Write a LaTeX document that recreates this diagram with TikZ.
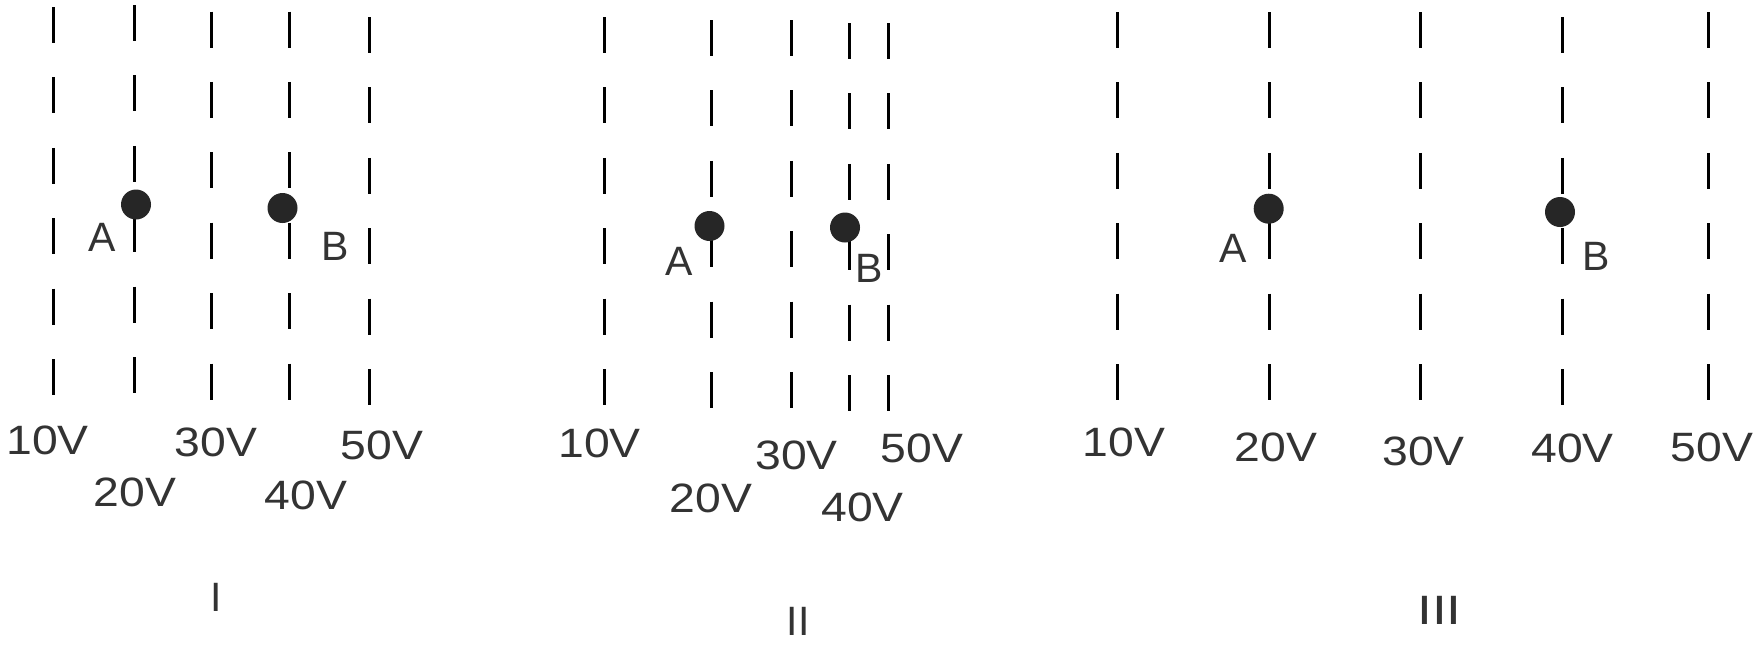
\documentclass[tikz,border=0pt]{standalone}
\usepackage{fontspec}
\setmainfont{Liberation Sans}
\begin{document}
\begin{tikzpicture}[x=1pt,y=-1pt,
  eqline/.style={line width=3pt, dash pattern=on 36pt off 34.4pt},
  chargedot/.style={circle, fill=black!85, inner sep=0pt, minimum size=30pt},
  lab/.style={font=\fontsize{41}{41}\selectfont, inner sep=0pt, text=black!80},
]
\fill[white] (0,0) rectangle (1762,646);
\useasboundingbox (0,0) rectangle (1762,646);
\newcommand{\vl}[2]{\scalebox{1.13}[1]{#2}}
% ---------- Panel I ----------
\draw[eqline] (53.5,7) -- ++(0,388);
\draw[eqline] (134.5,5) -- ++(0,388);
\draw[eqline] (211.5,11.5) -- ++(0,388);
\draw[eqline] (289.5,11.5) -- ++(0,388);
\draw[eqline] (369.5,17) -- ++(0,388);
\node[chargedot] (pIA) at (136,204.5) {};
\node[chargedot] (pIB) at (282.5,208) {};
\node[lab] (pIlA) at (102,237) {A};
\node[lab] (pIlB) at (335,246) {B};
\node[lab] (pI10) at (47.5,440) {\vl{}{10V}};
\node[lab] (pI20) at (135,492) {\vl{}{20V}};
\node[lab] (pI30) at (216,442) {\vl{}{30V}};
\node[lab] (pI40) at (306,495) {\vl{}{40V}};
\node[lab] (pI50) at (382,445) {\vl{}{50V}};
\node[lab] (pIname) at (216,597) {I};
% ---------- Panel II ----------
\draw[eqline] (604.5,17) -- ++(0,388);
\draw[eqline] (711.5,20) -- ++(0,388);
\draw[eqline] (791.5,20) -- ++(0,388);
\draw[eqline] (849.5,23) -- ++(0,388);
\draw[eqline] (888.5,23) -- ++(0,388);
\node[chargedot] (pIIA) at (709.5,226) {};
\node[chargedot] (pIIB) at (845,227.5) {};
\node[lab] (pIIlA) at (679,261) {A};
\node[lab] (pIIlB) at (869,268) {B};
\node[lab] (pII10) at (599.5,443) {\vl{}{10V}};
\node[lab] (pII20) at (711,498) {\vl{}{20V}};
\node[lab] (pII30) at (796.5,455) {\vl{}{30V}};
\node[lab] (pII40) at (862.5,507) {\vl{}{40V}};
\node[lab] (pII50) at (922,448.5) {\vl{}{50V}};
\node[lab] (pIIname) at (798,621) {II};
% ---------- Panel III ----------
\draw[eqline] (1117.5,12) -- ++(0,388);
\draw[eqline] (1269.5,12) -- ++(0,388);
\draw[eqline] (1420.5,12) -- ++(0,388);
\draw[eqline] (1562.5,17) -- ++(0,388);
\draw[eqline] (1708.5,12) -- ++(0,388);
\node[chargedot] (pIIIA) at (1268.7,208.7) {};
\node[chargedot] (pIIIB) at (1560,212) {};
\node[lab] (pIIIlA) at (1233.5,248) {A};
\node[lab] (pIIIlB) at (1596,256) {B};
\node[lab] (pIII10) at (1124,442) {\vl{}{10V}};
\node[lab] (pIII20) at (1276,447) {\vl{}{20V}};
\node[lab] (pIII30) at (1423.5,451) {\vl{}{30V}};
\node[lab] (pIII40) at (1572.5,448) {\vl{}{40V}};
\node[lab] (pIII50) at (1712,447) {\vl{}{50V}};
\node[lab] (pIIIname) at (1439.5,610) {\scalebox{1.3}[1]{III}};
\end{tikzpicture}
\end{document}
